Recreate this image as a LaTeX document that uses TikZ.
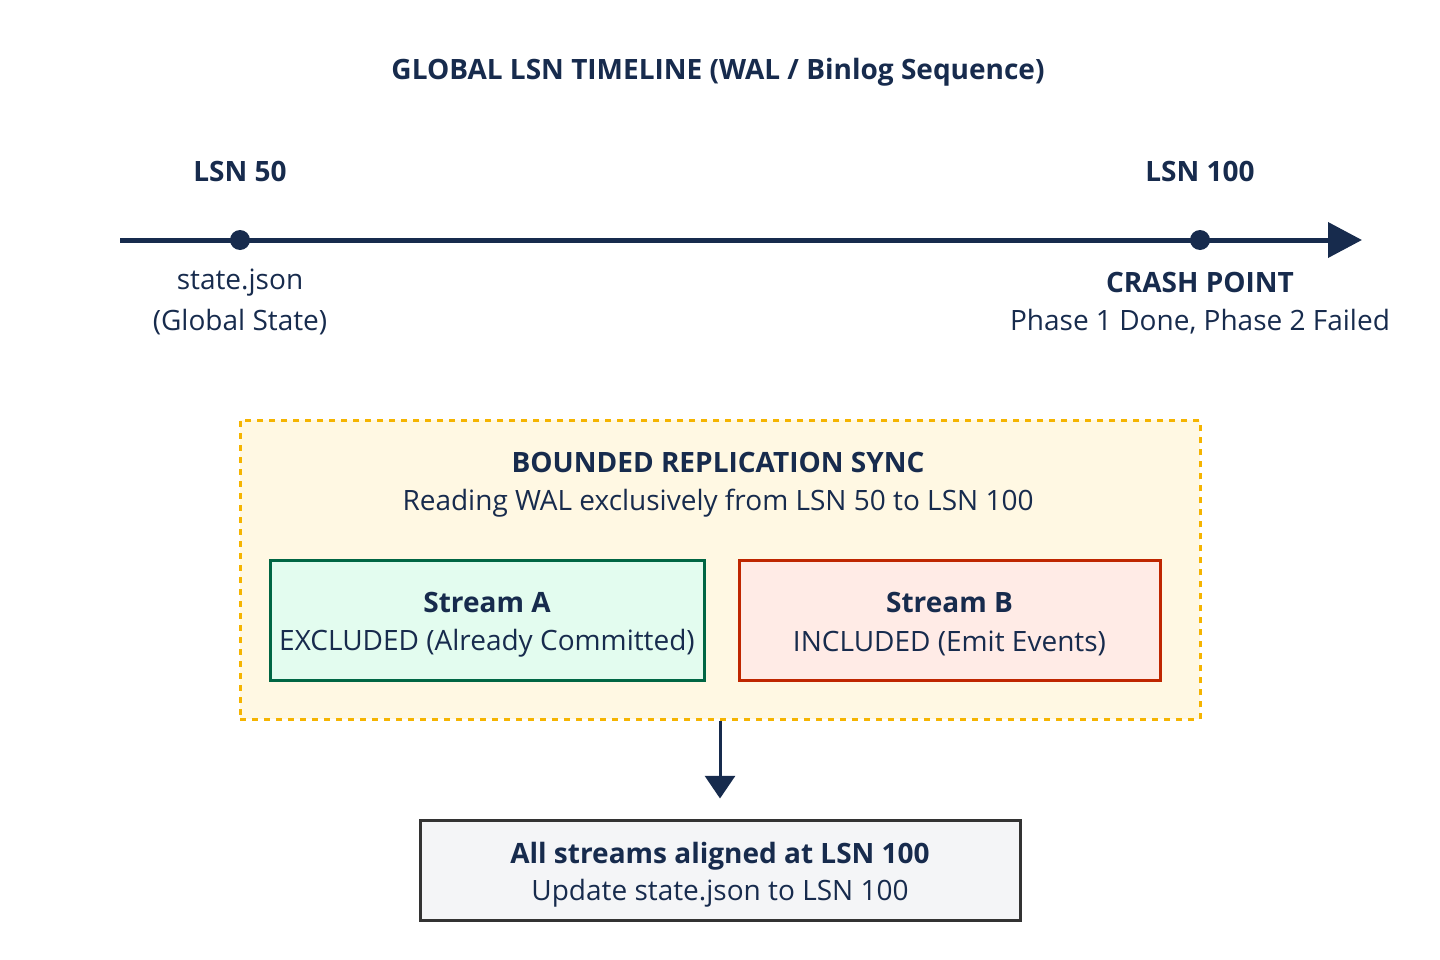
\documentclass[tikz,border=0pt]{standalone}
\usepackage{fontspec}
\setmainfont{Open Sans}
\usetikzlibrary{arrows.meta}
\definecolor{ink}{HTML}{172B4D}
\definecolor{amber}{HTML}{F5B400}
\definecolor{amberfill}{HTML}{FFF8E3}
\definecolor{greenline}{HTML}{006644}
\definecolor{greenfill}{HTML}{E3FCEF}
\definecolor{redline}{HTML}{BF2600}
\definecolor{redfill}{HTML}{FFEBE6}
\definecolor{grayline}{HTML}{333333}
\definecolor{grayfill}{HTML}{F4F5F7}
\tikzset{
  lbl/.style={text=ink, font=\fontsize{21}{25}\selectfont, align=center, inner sep=0pt},
  blbl/.style={lbl, font=\fontsize{21}{25}\selectfont\bfseries},
  dotnode/.style={circle, fill=ink, minimum size=15pt, inner sep=0pt},
  streambox/.style={draw, line width=2.25pt, minimum width=#1, minimum height=90pt, inner sep=0pt},
}
\begin{document}
\begin{tikzpicture}[x=0.75pt, y=-0.75pt]
\useasboundingbox (0,0) rectangle (1440,960);
% title
\node[blbl] (title) at (718,72) {GLOBAL LSN TIMELINE (WAL / Binlog Sequence)};
% timeline
\coordinate (tlstart) at (120,240);
\coordinate (tlend) at (1362,240);
\draw[ink, line width=3.75pt, -{Triangle[length=25.5pt, width=26pt]}] (tlstart) -- (tlend);
\node[dotnode] (d50) at (240,240) {};
\node[dotnode] (d100) at (1200,240) {};
\node[blbl] (l50) at (240,171) {LSN 50};
\node[blbl] (l100) at (1200,171) {LSN 100};
\node[lbl] (s1) at (240,283) {state.json};
\node[lbl] (s2) at (240,322) {(Global State)};
\node[blbl] (c1) at (1200,282) {CRASH POINT};
\node[lbl] (c2) at (1200,322) {Phase 1 Done, Phase 2 Failed};
% sync box
\node[draw=amber, fill=amberfill, line width=2.25pt, dash pattern=on 4.5pt off 4.5pt,
      minimum width=720pt, minimum height=224.25pt, inner sep=0pt] (sync) at (720,569.5) {};
\node[blbl] (syncT) at (718,462) {BOUNDED REPLICATION SYNC};
\node[lbl] (syncS) at (718,503) {Reading WAL exclusively from LSN 50 to LSN 100};
% streams
\node[streambox=325.5pt, draw=greenline, fill=greenfill] (sa) at (487,620) {};
\node[blbl] (saT) at (487,602) {Stream A};
\node[lbl] (saS) at (487,643) {EXCLUDED (Already Committed)};
\node[streambox=315.75pt, draw=redline, fill=redfill] (sb) at (949.5,620) {};
\node[blbl] (sbT) at (949.5,602) {Stream B};
\node[lbl] (sbS) at (949.5,643) {INCLUDED (Emit Events)};
% final box
\node[draw=grayline, fill=grayfill, line width=2.25pt, minimum width=450pt, minimum height=75pt, inner sep=0pt] (final) at (720,870) {};
\node[blbl] (fT) at (720,856) {All streams aligned at LSN 100};
\node[lbl] (fS) at (720,893) {Update state.json to LSN 100};
% arrow
\draw[ink, line width=2.25pt, -{Triangle[length=17pt, width=22.5pt]}, shorten >=15pt] (sync.south) -- (final.north);
\end{tikzpicture}
\end{document}
